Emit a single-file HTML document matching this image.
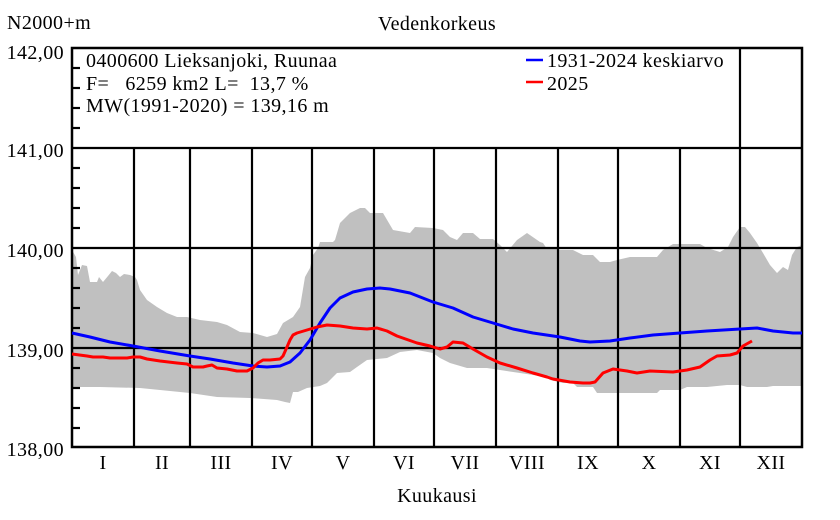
<!DOCTYPE html>
<html>
<head>
<meta charset="utf-8">
<style>
  html, body { margin:0; padding:0; background:#fff; }
  svg { display:block; }
  text { font-family: "Liberation Serif", "DejaVu Serif", serif; font-size:20px; letter-spacing:0.4px; fill:#000; }
</style>
</head>
<body>
<svg width="840" height="520" viewBox="0 0 840 520" xmlns="http://www.w3.org/2000/svg">
  <rect x="0" y="0" width="840" height="520" fill="#fff"/>

  <!-- gray band -->
  <polygon fill="#c0c0c0" points="
    72,250 76,257 78,275 82,265 87,266 90,282 97,282 99,277 103,282 108,276 112,271 116,273 120,277 124,274 130,275 135,277 137,280 140,290 147,300 157,307 167,313 177,317 187,317 200,320 217,322 227,325 240,332 253,333 267,337 277,334 283,323 293,317 300,307 305,277 310,268 313,255 318,248 320,242 333,242 335,240 340,223 350,213 360,208 365,208 370,213 383,213 393,230 410,233 415,227 433,228 443,230 450,237 457,240 463,233 473,233 480,239 493,239 500,245 507,252 517,240 527,233 540,242 543,243 547,249 557,249 560,250 573,250 583,255 593,255 600,262 610,262 617,260 630,257 657,257 663,250 673,244 700,244 707,248 720,252 728,247 733,237 740,227 745,227 750,233 757,243 763,253 770,265 777,273 783,267 788,270 792,255 797,247 802,245
    802,386 773,386 767,387 747,387 740,385 727,385 707,387 687,387 680,390 660,390 657,393 597,393 593,387 577,387 573,383 563,383 550,380 547,377 533,375 520,373 500,370 487,368 467,368 450,363 440,358 433,353 417,350 400,352 387,358 367,360 357,367 350,372 337,373 333,377 327,383 320,386 307,388 298,392 293,392 290,403 285,402 277,400 250,398 217,397 190,393 160,390 140,388 100,387 72,387"/>

  <!-- grid lines -->
  <g stroke="#000" stroke-width="2.2" fill="none">
    <line x1="72" y1="148" x2="802" y2="148"/>
    <line x1="72" y1="248" x2="802" y2="248"/>
    <line x1="72" y1="348" x2="802" y2="348"/>
    <line x1="134" y1="148" x2="134" y2="448"/>
    <line x1="190" y1="148" x2="190" y2="448"/>
    <line x1="252" y1="148" x2="252" y2="448"/>
    <line x1="312" y1="148" x2="312" y2="448"/>
    <line x1="374" y1="148" x2="374" y2="448"/>
    <line x1="434" y1="148" x2="434" y2="448"/>
    <line x1="496" y1="148" x2="496" y2="448"/>
    <line x1="558" y1="148" x2="558" y2="448"/>
    <line x1="618" y1="148" x2="618" y2="448"/>
    <line x1="680" y1="148" x2="680" y2="448"/>
    <line x1="740" y1="48" x2="740" y2="448"/>
    <!-- minor ticks -->
    <line x1="72" y1="68" x2="80" y2="68"/>
    <line x1="72" y1="88" x2="80" y2="88"/>
    <line x1="72" y1="108" x2="80" y2="108"/>
    <line x1="72" y1="128" x2="80" y2="128"/>
    <line x1="72" y1="168" x2="80" y2="168"/>
    <line x1="72" y1="188" x2="80" y2="188"/>
    <line x1="72" y1="208" x2="80" y2="208"/>
    <line x1="72" y1="228" x2="80" y2="228"/>
    <line x1="72" y1="268" x2="80" y2="268"/>
    <line x1="72" y1="288" x2="80" y2="288"/>
    <line x1="72" y1="308" x2="80" y2="308"/>
    <line x1="72" y1="328" x2="80" y2="328"/>
    <line x1="72" y1="368" x2="80" y2="368"/>
    <line x1="72" y1="388" x2="80" y2="388"/>
    <line x1="72" y1="408" x2="80" y2="408"/>
    <line x1="72" y1="428" x2="80" y2="428"/>
  </g>
  <!-- plot border -->
  <rect x="72" y="48" width="730" height="399" fill="none" stroke="#000" stroke-width="2.5"/>

  <!-- mean line -->
  <polyline fill="none" stroke="#0000ff" stroke-width="3" stroke-linejoin="round" points="72,333 90,337 110,342 133,346 160,351 190,356 210,359 233,363 253,366 267,367 280,366 290,362 300,353 310,340 320,323 330,308 340,298 353,292 367,289 380,288 390,289 410,293 433,302 453,308 473,317 493,323 513,329 533,333 560,337 580,341 590,342 610,341 630,338 653,335 680,333 707,331 740,329 757,328 773,331 793,333 802,333"/>

  <!-- 2025 line -->
  <polyline fill="none" stroke="#ff0000" stroke-width="3" stroke-linejoin="round" points="72,354 87,356 93,357 103,357 110,358 127,358 133,357 140,357 147,359 160,361 177,363 187,364 193,367 203,367 207,366 212,365 217,368 227,369 237,371 247,371 253,368 258,363 263,360 270,360 280,359 283,356 287,347 290,340 293,335 297,333 307,330 317,327 327,325 340,326 353,328 367,329 377,328 387,331 397,336 417,343 430,346 440,349 447,347 453,342 463,343 473,349 487,357 500,363 517,368 533,373 547,377 553,379 570,382 583,383 590,383 595,382 603,373 613,369 627,371 637,373 650,371 673,372 687,370 700,367 710,360 717,356 730,355 737,353 743,346 752,341"/>

  <!-- legend -->
  <line x1="526" y1="60" x2="543" y2="60" stroke="#0000ff" stroke-width="2.5"/>
  <line x1="526" y1="82" x2="543" y2="82" stroke="#ff0000" stroke-width="2.5"/>
  <text x="547" y="67">1931-2024 keskiarvo</text>
  <text x="547" y="90">2025</text>

  <!-- info text -->
  <text x="86" y="67" xml:space="preserve">0400600 Lieksanjoki, Ruunaa</text>
  <text x="86" y="90" xml:space="preserve">F=   6259 km2 L=  13,7 %</text>
  <text x="86" y="112" xml:space="preserve">MW(1991-2020) = 139,16 m</text>

  <!-- titles -->
  <text x="7" y="29">N2000+m</text>
  <text x="437" y="30" text-anchor="middle">Vedenkorkeus</text>
  <text x="437" y="502" text-anchor="middle">Kuukausi</text>

  <!-- y labels -->
  <g text-anchor="end">
    <text x="64" y="59">142,00</text>
    <text x="64" y="157">141,00</text>
    <text x="64" y="257">140,00</text>
    <text x="64" y="357">139,00</text>
    <text x="64" y="456">138,00</text>
  </g>

  <!-- x labels -->
  <g text-anchor="middle">
    <text x="103" y="469">I</text>
    <text x="162" y="469">II</text>
    <text x="221" y="469">III</text>
    <text x="282" y="469">IV</text>
    <text x="343" y="469">V</text>
    <text x="404" y="469">VI</text>
    <text x="465" y="469">VII</text>
    <text x="527" y="469">VIII</text>
    <text x="588" y="469">IX</text>
    <text x="649" y="469">X</text>
    <text x="710" y="469">XI</text>
    <text x="771" y="469">XII</text>
  </g>
</svg>
</body>
</html>
